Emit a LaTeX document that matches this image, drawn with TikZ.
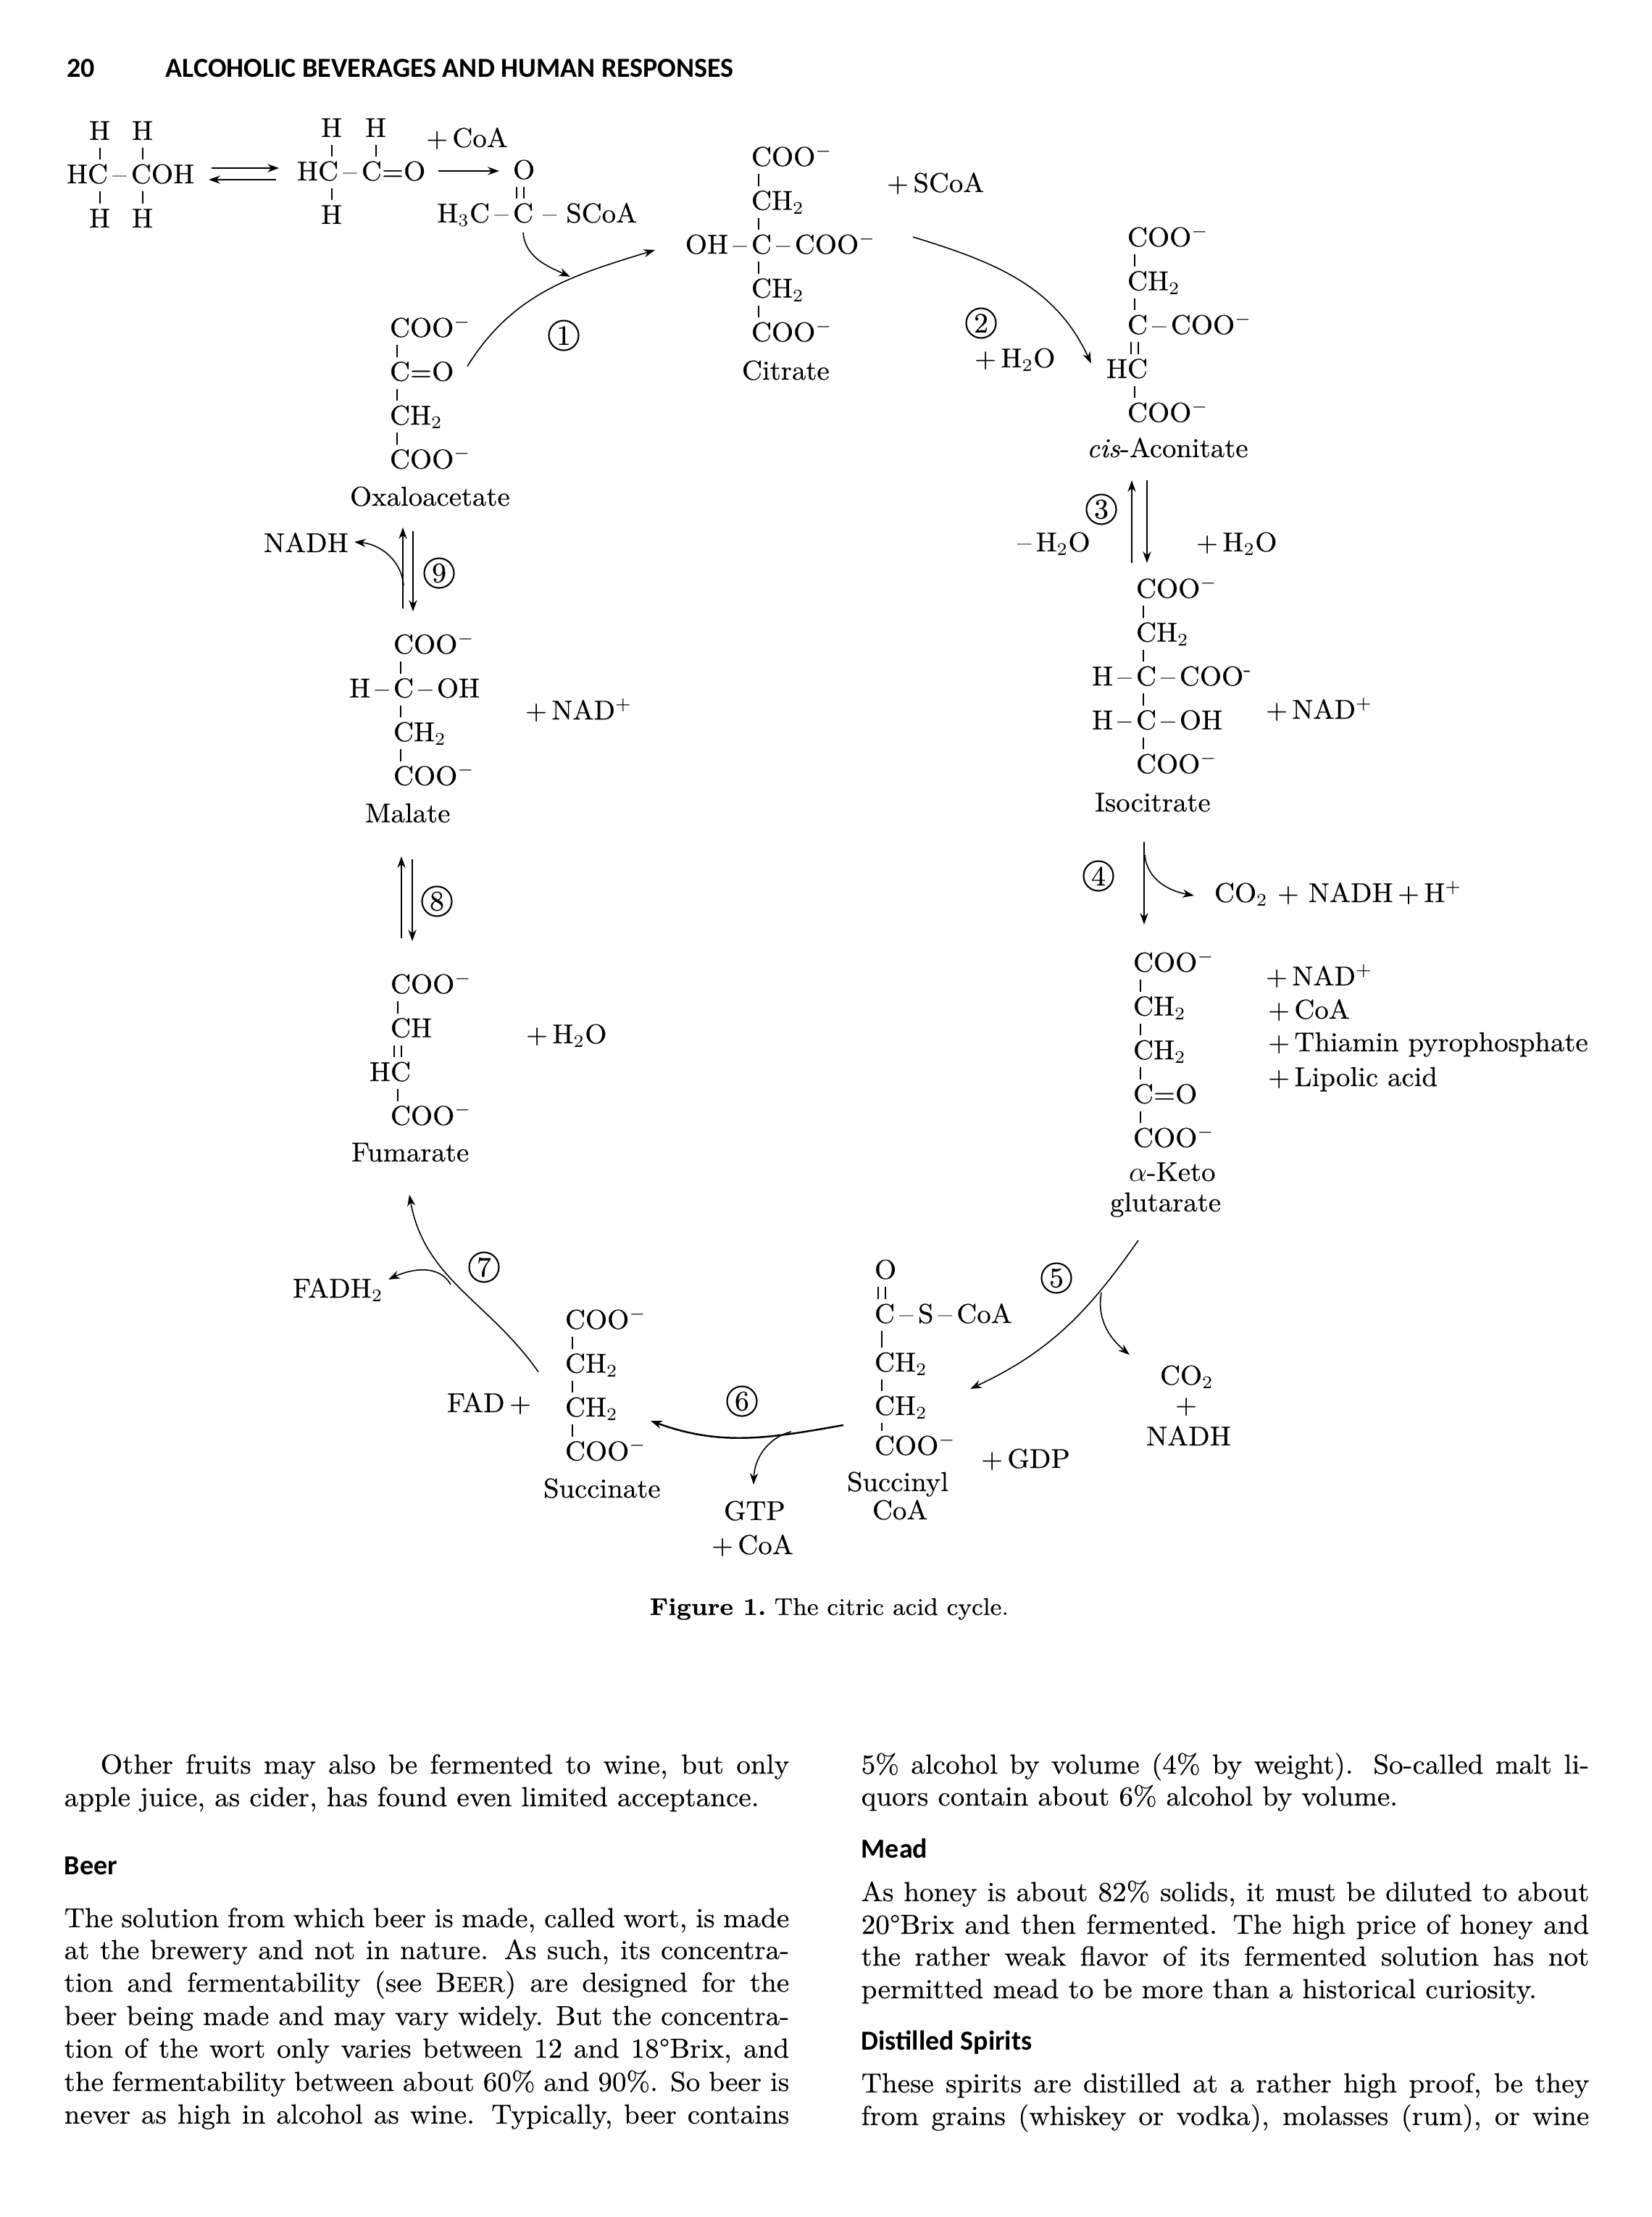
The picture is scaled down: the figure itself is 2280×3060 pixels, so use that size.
\documentclass[tikz,border=0pt]{standalone}
\usepackage{fontspec}
\usepackage{xcolor}
\usetikzlibrary{arrows.meta, positioning}
\setmainfont{Latin Modern Roman}[FakeBold=0.35,FakeStretch=1.03]
\newfontfamily\headfont{Carlito}
\newcommand{\chemfont}{\fontsize{10.7}{13}\selectfont}
\newcommand{\bodyfont}{\fontsize{10.8}{13}\selectfont}
\newcommand{\capfont}{\fontsize{9.5}{12}\selectfont}
\newcommand{\colleft}[1]{\makebox[10cm][s]{#1}}
\newcommand{\colright}[1]{\makebox[10.04cm][s]{#1}}
\tikzset{
    chem/.style={anchor=base west, inner sep=0pt, outer sep=0pt, text height=0.33cm,
                 text depth=0.11cm, font=\chemfont},
    chemside/.style={chem, anchor=base east},
    rowbelow/.style={below=0.165cm of #1.south west, anchor=north west},
    stepmark/.style={circle, draw, inner sep=0pt, minimum size=0.41cm, line width=0.6pt,
                     font=\fontsize{11}{12}\selectfont},
    bodyline/.style={anchor=base west, inner sep=0pt, font=\bodyfont},
    headline/.style={anchor=base west, inner sep=0pt, font=\headfont\bfseries\fontsize{10.8}{13}\selectfont},
    bond/.style={line width=0.55pt},
    arrow/.style={line width=0.45pt,-{Stealth[length=4.5pt,width=3.2pt]}},
    heavyarrow/.style={arrow, line width=0.7pt}
}

\begin{document}
\begin{tikzpicture}[x=0.01cm, y=-0.01cm]
    \useasboundingbox (0,0) rectangle (2280,3060);

    % Page head
    \node[headline] (pageno) at (92,106) {20};
    \node[headline] (pagehead) at (228,106) {ALCOHOLIC BEVERAGES AND HUMAN RESPONSES};

    % Top left compounds
    \node[chem] (eth0) at (92,253) {HC\,--\,COH};
    \node[chem] (eth1) at (123,193) {H};
    \node[chem] (eth2) at (182,193) {H};
    \node[chem] (eth3) at (123,314) {H};
    \node[chem] (eth4) at (182,314) {H};
    \node[chem] (ald0) at (410,249) {HC\,--\,C=O};
    \node[chem] (ald1) at (443,189) {H};
    \node[chem] (ald2) at (504,189) {H};
    \node[chem] (ald3) at (443,309) {H};
    \node[chem] (coa0) at (588,203) {+\,CoA};
    \node[chem] (acy1) at (708,247) {O};
    \node[chem] (acy2) at (708,307) {C -- SCoA};
    \node[chemside] (acy2l) at (acy2.base west) {H$_3$C\,--\,};

    % Citrate
    \node[chem] (cit1) at (1037,229) {COO$^-$};
    \node[chem, rowbelow=cit1] (cit2) {CH$_2$};
    \node[chem, rowbelow=cit2] (cit3) {C\,--\,COO$^-$};
    \node[chemside] (cit3l) at (cit3.base west) {OH\,--\,};
    \node[chem, rowbelow=cit3] (cit4) {CH$_2$};
    \node[chem, rowbelow=cit4] (cit5) {COO$^-$};
    \node[chem] (citname) at (1024,524) {Citrate};
    \node[chem] (scoa0) at (1224,265) {+\,SCoA};

    % cis-Aconitate
    \node[chem] (cis1) at (1556,340) {COO$^-$};
    \node[chem, rowbelow=cis1] (cis2) {CH$_2$};
    \node[chem, rowbelow=cis2] (cis3) {C\,--\,COO$^-$};
    \node[chem, rowbelow=cis3] (cis4) {C};
    \node[chemside] (cis4l) at (cis4.base west) {H};
    \node[chem, rowbelow=cis4] (cis5) {COO$^-$};
    \node[chem] (cisname) at (1500,631) {\textit{cis}-Aconitate};
    \node[chem] (wat2) at (1345,507) {+\,H$_2$O};
    \node[chem] (wat3a) at (1404,761) {--\,H$_2$O};
    \node[chem] (wat3b) at (1651,761) {+\,H$_2$O};

    % Isocitrate
    \node[chem] (iso1) at (1568,825) {COO$^-$};
    \node[chem, rowbelow=iso1] (iso2) {CH$_2$};
    \node[chem, rowbelow=iso2] (iso3) {C\,--\,COO\textsuperscript{-}};
    \node[chemside] (iso3l) at (iso3.base west) {H\,--\,};
    \node[chem, rowbelow=iso3] (iso4) {C\,--\,OH};
    \node[chemside] (iso4l) at (iso4.base west) {H\,--\,};
    \node[chem, rowbelow=iso4] (iso5) {COO$^-$};
    \node[chem] (isoname) at (1511,1120) {Isocitrate};
    \node[chem] (nad3) at (1747,992) {+\,NAD$^+$};
    \node[chem] (co2a) at (1676,1245) {CO$_2$ + NADH\,+\,H$^+$};

    % alpha-Ketoglutarate
    \node[chem] (ket1) at (1564,1341) {COO$^-$};
    \node[chem, rowbelow=ket1] (ket2) {CH$_2$};
    \node[chem, rowbelow=ket2] (ket3) {CH$_2$};
    \node[chem, rowbelow=ket3] (ket4) {C=O};
    \node[chem, rowbelow=ket4] (ket5) {COO$^-$};
    \node[chem] (ketname) at (1558,1630) {$\alpha$-Keto};
    \node[chem] (gluname) at (1532,1672) {glutarate};
    \node[chem] (add1) at (1747,1360) {+\,NAD$^+$};
    \node[chem] (add2) at (1750,1406) {+\,CoA};
    \node[chem] (add3) at (1750,1451) {+\,Thiamin pyrophosphate};
    \node[chem] (add4) at (1750,1499) {+\,Lipolic acid};
    \node[chem] (co2b) at (1601,1911) {CO$_2$};
    \node[chem] (plusb) at (1622,1951) {+};
    \node[chem] (nadhb) at (1582,1995) {NADH};
    \node[chem] (gdp0) at (1354,2026) {+\,GDP};

    % Succinyl CoA
    \node[chem] (sco1) at (1207,1765) {O};
    \node[chem] (sco2) at (1207,1826) {C\,--\,S\,--\,CoA};
    \node[chem] (sco3) at (1207,1893) {CH$_2$};
    \node[chem] (sco4) at (1207,1953) {CH$_2$};
    \node[chem] (sco5) at (1207,2008) {COO$^-$};
    \node[chem] (sconame) at (1169,2058) {Succinyl};
    \node[chem] (sconamb) at (1204,2097) {CoA};
    \node[chem] (gtp0) at (999,2098) {GTP};
    \node[chem] (gtp1) at (982,2145) {+\,CoA};

    % Succinate
    \node[chem] (suc1) at (780,1834) {COO$^-$};
    \node[chem, rowbelow=suc1] (suc2) {CH$_2$};
    \node[chem, rowbelow=suc2] (suc3) {CH$_2$};
    \node[chem, rowbelow=suc3] (suc4) {COO$^-$};
    \node[chem] (sucname) at (750,2067) {Succinate};
    \node[chem] (fad0) at (617,1949) {FAD\,+};
    \node[chem] (fadh) at (404,1791) {FADH$_2$};

    % Fumarate
    \node[chem] (fum1) at (539,1371) {COO$^-$};
    \node[chem, rowbelow=fum1] (fum2) {CH};
    \node[chem, rowbelow=fum2] (fum3) {C};
    \node[chemside] (fum3l) at (fum3.base west) {H};
    \node[chem, rowbelow=fum3] (fum4) {COO$^-$};
    \node[chem] (fumname) at (485,1603) {Fumarate};
    \node[chem] (wat8) at (726,1440) {+\,H$_2$O};

    % Malate
    \node[chem] (mal1) at (543,902) {COO$^-$};
    \node[chem, rowbelow=mal1] (mal2) {C\,--\,OH};
    \node[chemside] (mal2l) at (mal2.base west) {H\,--\,};
    \node[chem, rowbelow=mal2] (mal3) {CH$_2$};
    \node[chem, rowbelow=mal3] (mal4) {COO$^-$};
    \node[chem] (malname) at (504,1135) {Malate};
    \node[chem] (nad9) at (725,993) {+\,NAD$^+$};
    \node[chem] (nadh9) at (364,762) {NADH};

    % Oxaloacetate
    \node[chem] (oxa1) at (538,465) {COO$^-$};
    \node[chem, rowbelow=oxa1] (oxa2) {C=O};
    \node[chem, rowbelow=oxa2] (oxa3) {CH$_2$};
    \node[chem, rowbelow=oxa3] (oxa4) {COO$^-$};
    \node[chem] (oxaname) at (483,698) {Oxaloacetate};

    % Step numbers
    \node[stepmark] (num1) at (778,463) {1};
    \node[stepmark] (num2) at (1354,446) {2};
    \node[stepmark] (num3) at (1520,703) {3};
    \node[stepmark] (num4) at (1516,1209) {4};
    \node[stepmark] (num5) at (1458,1764) {5};
    \node[stepmark] (num6) at (1024,1934) {6};
    \node[stepmark] (num7) at (668,1749) {7};
    \node[stepmark] (num8) at (603,1244) {8};
    \node[stepmark] (num9) at (606,791) {9};

    % Bonds
    \foreach \a/\b in {cit1/cit2,cit2/cit3,cit3/cit4,cit4/cit5,cis1/cis2,cis2/cis3,cis4/cis5,
                       iso1/iso2,iso2/iso3,iso3/iso4,iso4/iso5,ket1/ket2,ket2/ket3,ket3/ket4,ket4/ket5,
                       sco2/sco3,sco3/sco4,sco4/sco5,suc1/suc2,suc2/suc3,suc3/suc4,
                       fum1/fum2,fum3/fum4,mal1/mal2,mal2/mal3,mal3/mal4,oxa1/oxa2,oxa2/oxa3,oxa3/oxa4}
        \draw[bond] ([xshift=1mm]\a.south west) -- ([xshift=1mm]\b.north west);
    \foreach \a/\b in {cis3/cis4,fum2/fum3,acy1/acy2,sco1/sco2} {
        \draw[bond] ([xshift=0.5mm]\a.south west) -- ([xshift=0.5mm]\b.north west);
        \draw[bond] ([xshift=1.5mm]\a.south west) -- ([xshift=1.5mm]\b.north west);
    }
    \foreach \h/\r in {eth1/eth0,eth2/eth0,ald1/ald0,ald2/ald0}
        \draw[bond] (\h.south) -- (\h.south |- \r.north);
    \foreach \h/\r in {eth3/eth0,eth4/eth0,ald3/ald0}
        \draw[bond] (\h.north) -- (\h.north |- \r.south);

    % Forks on the reaction arrows
    \coordinate (fork0) at (787,382);
    \coordinate (fork4) at (1580,1180);
    \coordinate (fork5) at (1520,1784);
    \coordinate (fork6) at (1092,1976);
    \coordinate (fork7) at (622,1773);
    \coordinate (fork9) at (557,808);

    % Arrows
    \draw[arrow] ([shift={(200,-21)}]eth0.base west) -- ([shift={(-25,-17)}]ald0.base west);
    \draw[arrow] ([shift={(-29,-1)}]ald0.base west) -- ([shift={(196,-5)}]eth0.base west);
    \draw[arrow] ([shift={(195,-13)}]ald0.base west) -- ([shift={(-19,-11)}]acy1.base west);
    \draw[arrow] ([shift={(14,14)}]acy2.base west) to[out=-85,in=155] (fork0);
    \draw[arrow] ([shift={(107,-20)}]oxa2.base west) to[out=58,in=197] ([shift={(-133,-5)}]cit3.base west);
    \draw[arrow] ([shift={(223,-23)}]cit3.base west) to[out=-17,in=115] ([shift={(-50,-20)}]cis4.base west);
    \draw[arrow] ([shift={(-6,-48)}]iso1.base west) -- ([shift={(62,32)}]cisname.base west);
    \draw[arrow] ([shift={(83,32)}]cisname.base west) -- ([shift={(15,-48)}]iso1.base west);
    \draw[arrow] ([shift={(68,42)}]isoname.base west) -- ([shift={(15,-65)}]ket1.base west);
    \draw[arrow] (fork4) to[out=-85,in=170] ([shift={(-28,-9)}]co2a.base west);
    \draw[arrow] ([shift={(39,40)}]gluname.base west) to[out=-125,in=25] ([shift={(132,24)}]sco3.base west);
    \draw[arrow] (fork5) to[out=-100,in=140] ([shift={(-42,-41)}]co2b.base west);
    \draw[heavyarrow] ([shift={(-43,-41)}]sco5.base west) to[out=190,in=-20] ([shift={(118,6)}]suc3.base west);
    \draw[arrow] (fork6) to[out=195,in=88] ([shift={(41,-49)}]gtp0.base west);
    \draw[arrow] ([shift={(-37,-1)}]suc2.base west) to[out=125,in=-80] ([shift={(80,46)}]fumname.base west);
    \draw[arrow] (fork7) to[out=120,in=25] ([shift={(132,-25)}]fadh.base west);
    \draw[arrow] ([shift={(15,-76)}]fum1.base west) -- ([shift={(50,47)}]malname.base west);
    \draw[arrow] ([shift={(65,51)}]malname.base west) -- ([shift={(30,-72)}]fum1.base west);
    \draw[arrow] ([shift={(13,-62)}]mal1.base west) -- ([shift={(73,30)}]oxaname.base west);
    \draw[arrow] ([shift={(87,35)}]oxaname.base west) -- ([shift={(27,-58)}]mal1.base west);
    \draw[arrow] (fork9) to[out=95,in=-5] ([shift={(125,-14)}]nadh9.base west);

    % Caption
    \node[bodyline, font=\capfont\bfseries] (figno) at (896,2229) {Figure 1.};
    \node[bodyline, font=\capfont] (figtext) at (1068,2229) {The citric acid cycle.};

    % Left column
    \node[bodyline] (left1) at (138,2448) {\makebox[9.5cm][s]{Other fruits may also be fermented to wine, but only}};
    \node[bodyline] (left2) at (88,2493) {apple juice, as cider, has found even limited acceptance.};
    \node[headline] (beerhead) at (88,2587) {Beer};
    \node[bodyline] (left3) at (88,2660) {\colleft{The solution from which beer is made, called wort, is made}};
    \node[bodyline] (left4) at (88,2704) {\colleft{at the brewery and not in nature. As such, its concentra-}};
    \node[bodyline] (left5) at (88,2749) {\colleft{tion and fermentability (see B{\fontsize{8.4}{10}\selectfont EER}) are designed for the}};
    \node[bodyline] (left6) at (88,2795) {\colleft{beer being made and may vary widely. But the concentra-}};
    \node[bodyline] (left7) at (88,2840) {\colleft{tion of the wort only varies between 12 and 18\textdegree Brix, and}};
    \node[bodyline] (left8) at (88,2886) {\colleft{the fermentability between about 60\% and 90\%. So beer is}};
    \node[bodyline] (left9) at (88,2931) {\colleft{never as high in alcohol as wine. Typically, beer contains}};

    % Right column
    \node[bodyline] (right1) at (1188,2448) {\colright{5\% alcohol by volume (4\% by weight). So-called malt li-}};
    \node[bodyline] (right2) at (1188,2492) {quors contain about 6\% alcohol by volume.};
    \node[headline] (meadhead) at (1188,2564) {Mead};
    \node[bodyline] (right3) at (1188,2624) {\colright{As honey is about 82\% solids, it must be diluted to about}};
    \node[bodyline] (right4) at (1188,2669) {\colright{20\textdegree Brix and then fermented. The high price of honey and}};
    \node[bodyline] (right5) at (1188,2713) {\colright{the rather weak flavor of its fermented solution has not}};
    \node[bodyline] (right6) at (1188,2758) {permitted mead to be more than a historical curiosity.};
    \node[headline] (spirhead) at (1188,2829) {Distilled Spirits};
    \node[bodyline] (right7) at (1188,2888) {\colright{These spirits are distilled at a rather high proof, be they}};
    \node[bodyline] (right8) at (1188,2933) {\colright{from grains (whiskey or vodka), molasses (rum), or wine}};
\end{tikzpicture}
\end{document}
